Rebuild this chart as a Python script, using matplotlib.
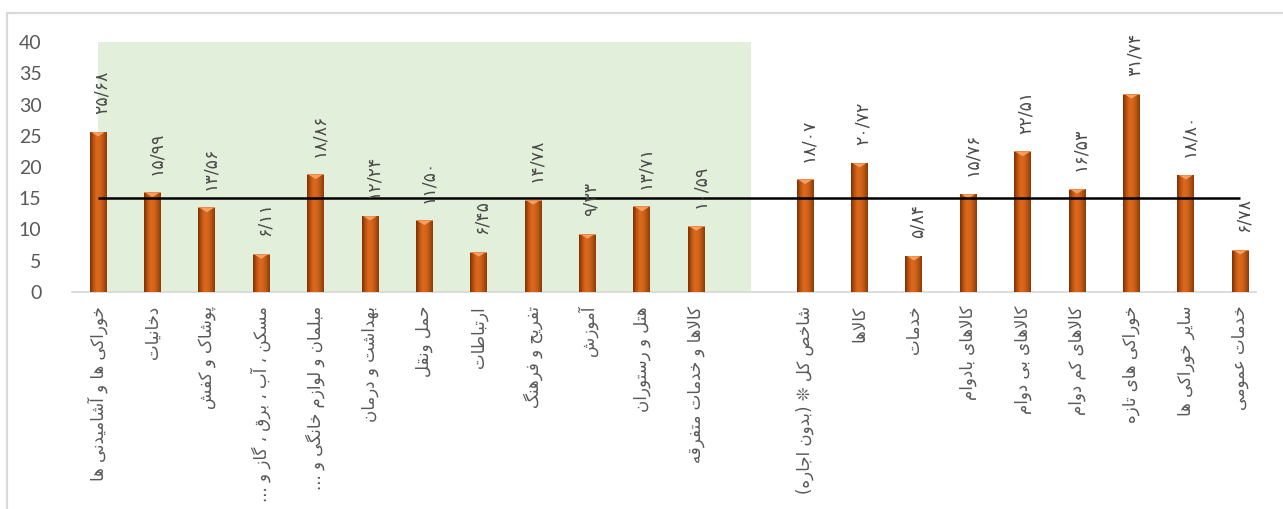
import numpy as np
import matplotlib
matplotlib.use("Agg")
import matplotlib.pyplot as plt
from matplotlib.patches import Rectangle, Polygon
from matplotlib.colors import LinearSegmentedColormap

# ---------------------------------------------------------------- data
group_labels = [
    "خوراکی ها و آشامیدنی ها",
    "دخانیات",
    "پوشاک و کفش",
    "مسکن ، آب ، برق ، گاز و ...",
    "مبلمان و لوازم خانگی و ...",
    "بهداشت و درمان",
    "حمل ونقل",
    "ارتباطات",
    "تفریح و فرهنگ",
    "آموزش",
    "هتل و رستوران",
    "کالاها و خدمات متفرقه",
]
group_values = [25.68, 15.99, 13.56, 6.11, 18.86, 12.24, 11.50, 6.45,
                14.78, 9.33, 13.71, 10.59]

index_labels = [
    "شاخص کل ❊ (بدون اجاره)",
    "کالاها",
    "خدمات",
    "کالاهای بادوام",
    "کالاهای بی دوام",
    "کالاهای کم دوام",
    "خوراکی های تازه",
    "سایر خوراکی ها",
    "خدمات عمومی",
]
index_values = [18.07, 20.72, 5.84, 15.76, 22.51, 16.53, 31.74, 18.80, 6.78]

reference_level = 15
y_ticks = [0, 5, 10, 15, 20, 25, 30, 35, 40]

# ------------------------------------------------- Persian text shaping
# (isolated, final, initial, medial); two-form letters join only to the right
FORMS = {
    "ا": (0xFE8D, 0xFE8E), "آ": (0xFE81, 0xFE82),
    "ب": (0xFE8F, 0xFE90, 0xFE91, 0xFE92), "پ": (0xFB56, 0xFB57, 0xFB58, 0xFB59),
    "ت": (0xFE95, 0xFE96, 0xFE97, 0xFE98), "ث": (0xFE99, 0xFE9A, 0xFE9B, 0xFE9C),
    "ج": (0xFE9D, 0xFE9E, 0xFE9F, 0xFEA0), "چ": (0xFB7A, 0xFB7B, 0xFB7C, 0xFB7D),
    "ح": (0xFEA1, 0xFEA2, 0xFEA3, 0xFEA4), "خ": (0xFEA5, 0xFEA6, 0xFEA7, 0xFEA8),
    "د": (0xFEA9, 0xFEAA), "ذ": (0xFEAB, 0xFEAC), "ر": (0xFEAD, 0xFEAE),
    "ز": (0xFEAF, 0xFEB0), "ژ": (0xFB8A, 0xFB8B),
    "س": (0xFEB1, 0xFEB2, 0xFEB3, 0xFEB4), "ش": (0xFEB5, 0xFEB6, 0xFEB7, 0xFEB8),
    "ص": (0xFEB9, 0xFEBA, 0xFEBB, 0xFEBC), "ض": (0xFEBD, 0xFEBE, 0xFEBF, 0xFEC0),
    "ط": (0xFEC1, 0xFEC2, 0xFEC3, 0xFEC4), "ظ": (0xFEC5, 0xFEC6, 0xFEC7, 0xFEC8),
    "ع": (0xFEC9, 0xFECA, 0xFECB, 0xFECC), "غ": (0xFECD, 0xFECE, 0xFECF, 0xFED0),
    "ف": (0xFED1, 0xFED2, 0xFED3, 0xFED4), "ق": (0xFED5, 0xFED6, 0xFED7, 0xFED8),
    "ک": (0xFB8E, 0xFB8F, 0xFB90, 0xFB91), "گ": (0xFB92, 0xFB93, 0xFB94, 0xFB95),
    "ل": (0xFEDD, 0xFEDE, 0xFEDF, 0xFEE0), "م": (0xFEE1, 0xFEE2, 0xFEE3, 0xFEE4),
    "ن": (0xFEE5, 0xFEE6, 0xFEE7, 0xFEE8), "و": (0xFEED, 0xFEEE),
    "ه": (0xFEE9, 0xFEEA, 0xFEEB, 0xFEEC), "ی": (0xFBFC, 0xFBFD, 0xFBFE, 0xFBFF),
}
LAM_ALEF = {"ا": (0xFEFB, 0xFEFC), "آ": (0xFEF5, 0xFEF6)}
MIRROR = {"(": ")", ")": "("}


def shape_rtl(text):
    chars = list(text)
    out = []
    i = 0
    n = len(chars)

    def dual(c):
        return c in FORMS and len(FORMS[c]) == 4

    while i < n:
        c = chars[i]
        prev = chars[i - 1] if i > 0 else None
        joins_prev = c in FORMS and prev is not None and dual(prev)
        if c == "ل" and i + 1 < n and chars[i + 1] in LAM_ALEF:
            iso, fin = LAM_ALEF[chars[i + 1]]
            out.append(chr(fin if joins_prev else iso))
            i += 2
            continue
        if c not in FORMS:
            out.append(MIRROR.get(c, c))
            i += 1
            continue
        nxt = chars[i + 1] if i + 1 < n else None
        joins_next = dual(c) and nxt in FORMS
        f = FORMS[c]
        if joins_prev and joins_next:
            g = f[3]
        elif joins_prev:
            g = f[1]
        elif joins_next:
            g = f[2]
        else:
            g = f[0]
        out.append(chr(g))
        i += 1
    return "".join(reversed(out))


FA_DIGITS = str.maketrans("0123456789", "۰۱۲۳۴۵۶۷۸۹")


def fa_number(v):
    return f"{v:.2f}".replace(".", "/").translate(FA_DIGITS)


# ---------------------------------------------------------------- layout
labels = group_labels + [""] + index_labels
values = group_values + [np.nan] + index_values
x = np.arange(len(labels))
bar_mask = ~np.isnan(values)

W, H, DPI = 1283, 509, 100
fig = plt.figure(figsize=(W / DPI, H / DPI), dpi=DPI)
fig.patch.set_facecolor("white")

# light outer frame of the chart area
fig.add_artist(Rectangle((7 / W, -0.05), 1.1, (H - 13) / H + 0.05,
                         transform=fig.transFigure, fill=False,
                         edgecolor="#D9D9D9", linewidth=1.6))

ax = fig.add_axes([72 / W, 217 / H, (1256 - 72) / W, 250 / H])
ax.set_xlim(-0.478, len(labels) - 1 + 0.29)
ax.set_ylim(0, 40)
ax.patch.set_alpha(0)

# shaded band behind the group bars
ax.add_patch(Rectangle((0, 0), len(group_labels), 40, facecolor="#E2EFDA",
                       edgecolor="none", zorder=0))

bar_w = 0.31
bars = ax.bar(x[bar_mask], np.array(values)[bar_mask], width=bar_w,
              color="#C55A11", edgecolor="none", zorder=2)

# cylinder-like horizontal shading on each bar
shade = LinearSegmentedColormap.from_list(
    "shade", ["#7A3006", "#BD520E", "#DC6A1E", "#D4641B", "#B65411", "#8A3A08"])
grad = np.linspace(0, 1, 64).reshape(1, -1)
for b in bars:
    x0, w, h = b.get_x(), b.get_width(), b.get_height()
    im = ax.imshow(grad, cmap=shade, aspect="auto", extent=(x0, x0 + w, 0, h),
                   zorder=3, interpolation="bilinear")
    im.set_clip_path(b)
    # bevelled top
    th = 0.8
    ax.add_patch(Polygon([(x0 + 0.1 * w, h - 0.12), (x0 + 0.9 * w, h - 0.12),
                          (x0 + 0.5 * w, h - th)], closed=True,
                         facecolor="#F5A060", edgecolor="none", zorder=4))
    ax.add_patch(Rectangle((x0, h - 0.15), w, 0.15, facecolor="#EB8A4C",
                           edgecolor="none", zorder=4))

# reference line at the overall level
ax.plot([x[0], x[-1]], [reference_level, reference_level], color="black",
        linewidth=1.8, zorder=5, solid_capstyle="butt")

# value labels above bars
for xi, v in zip(x[bar_mask], np.array(values)[bar_mask]):
    ax.annotate(fa_number(v), (xi, v), xytext=(2.5, 12.5), textcoords="offset points",
                rotation=90, ha="center", va="bottom", fontsize=12.5,
                color="#4A4A4A", family="DejaVu Sans", zorder=6)

ax.set_xticks(x)
ax.set_xticklabels([shape_rtl(t) for t in labels], rotation=90,
                   fontsize=12, color="#595959", family="DejaVu Sans")
ax.set_yticks(y_ticks)
ax.set_yticklabels([str(t) for t in y_ticks], fontsize=14, color="#595959",
                   family="Lato")
ax.tick_params(axis="both", length=0)
ax.tick_params(axis="y", pad=22)
ax.tick_params(axis="x", pad=10)

for s in ["top", "right", "left"]:
    ax.spines[s].set_visible(False)
ax.spines["bottom"].set_color("#D9D9D9")
ax.spines["bottom"].set_linewidth(1.3)

fig.savefig("out.png", dpi=DPI)
